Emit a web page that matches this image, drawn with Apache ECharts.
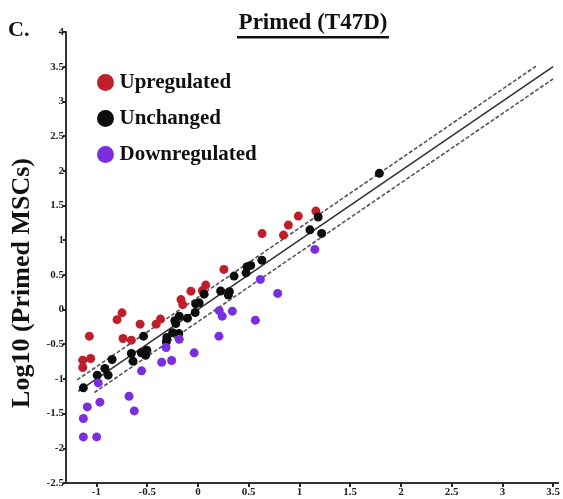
<!DOCTYPE html>
<html><head><meta charset="utf-8">
<script src="https://cdn.jsdelivr.net/npm/echarts@6/dist/echarts.min.js"></script>
<style>html,body{margin:0;padding:0;background:#fff}#c{width:563px;height:499px}</style>
</head><body><div id="c"></div>
<script>
// ---- data ----
const seriesNames = ['Upregulated', 'Unchanged', 'Downregulated'];
const upX = [1.162, 0.989, 0.891, 0.843, 0.632, 0.256, 0.077, 0.044, -0.069, -0.167, -0.150, -0.369, -0.412, -0.570, -0.748, -0.797, -0.738, -0.656, -1.070, -1.057, -1.135, -1.135];
const upY = [1.419, 1.347, 1.217, 1.073, 1.095, 0.578, 0.352, 0.273, 0.265, 0.143, 0.071, -0.138, -0.211, -0.211, -0.048, -0.146, -0.417, -0.441, -0.384, -0.705, -0.730, -0.835];
const unchX = [1.788, 1.185, 1.104, 1.219, 0.630, 0.520, 0.484, 0.474, 0.356, 0.224, 0.310, 0.300, 0.061, 0.012, -0.022, -0.027, -0.103, -0.184, -0.228, -0.218, -0.249, -0.306, -0.189, -0.311, -0.536, -0.503, -0.558, -0.516, -0.656, -0.640, -0.846, -0.917, -0.885, -0.992, -1.129];
const unchY = [1.963, 1.333, 1.149, 1.097, 0.712, 0.636, 0.616, 0.529, 0.482, 0.268, 0.258, 0.208, 0.222, 0.097, 0.082, -0.042, -0.124, -0.095, -0.160, -0.203, -0.333, -0.402, -0.345, -0.463, -0.384, -0.586, -0.624, -0.658, -0.633, -0.744, -0.720, -0.849, -0.946, -0.946, -1.129];
const downX = [1.152, 0.615, 0.786, 0.210, 0.239, 0.339, 0.566, 0.207, -0.184, -0.314, -0.037, -0.357, -0.259, -0.555, -0.982, -0.966, -1.090, -0.679, -0.627, -1.129, -1.129, -0.998];
const downY = [0.867, 0.434, 0.232, -0.016, -0.095, -0.023, -0.153, -0.384, -0.430, -0.547, -0.624, -0.759, -0.734, -0.884, -1.057, -1.335, -1.403, -1.249, -1.461, -1.571, -1.836, -1.836];
// reference lines (identity and +/- log10(1.5))
const solidLineX = [-1.18, 3.5];
const solidLineY = [-1.18, 3.5];
const upperLineX = [-1.19, 3.33];
const upperLineY = [-1.014, 3.506];
const lowerLineX = [-1.02, 3.5];
const lowerLineY = [-1.196, 3.324];
const xTicks = [-1, -0.5, 0, 0.5, 1, 1.5, 2, 2.5, 3, 3.5];
const yMin = -2.5, yMax = 4, yStep = 0.5;
const xMin = -1.3, xMax = 3.55;
const titleText = 'Primed (T47D)';
const yAxisTitle = 'Log10 (Primed MSCs)';
const panelLabel = 'C.';

// ---- chart ----
const zip = (a, b) => a.map((v, i) => [v, b[i]]);
const serif = 'Liberation Serif, Times New Roman, serif';
const colors = ['#bf1f2b', '#0d0d0d', '#7a2ee0'];
const chart = echarts.init(document.getElementById('c'), null, {renderer: 'canvas'});
const lineStyleBase = {color: '#333', width: 1.6};
chart.setOption({
  animation: false,
  backgroundColor: '#fff',
  grid: {left: 66, right: 0, top: 32, bottom: 16},
  legend: {
    data: seriesNames.map(n => ({name: n, icon: 'circle'})),
    orient: 'vertical', left: 92, top: 67, itemGap: 15,
    itemWidth: 18, itemHeight: 17,
    textStyle: {fontFamily: serif, fontWeight: 'bold', fontSize: 21, color: '#111'}
  },
  xAxis: {
    type: 'value', min: xMin, max: xMax,
    axisLine: {show: true, onZero: false, lineStyle: {color: '#333', width: 2}},
    axisTick: {show: true, customValues: xTicks, length: 4, lineStyle: {color: '#222', width: 2}},
    axisLabel: {customValues: xTicks, margin: 4, fontFamily: serif, fontWeight: 'bold', fontSize: 11, color: '#222'},
    splitLine: {show: false}
  },
  yAxis: {
    type: 'value', min: yMin, max: yMax, interval: yStep,
    axisLine: {show: true, onZero: false, lineStyle: {color: '#333', width: 2}},
    axisTick: {show: true, length: 3, lineStyle: {color: '#222', width: 2}},
    axisLabel: {margin: 2, fontFamily: serif, fontWeight: 'bold', fontSize: 11, color: '#222'},
    splitLine: {show: false}
  },
  graphic: [
    {type: 'text', left: 8, top: 19, style: {text: panelLabel, font: 'bold 22px ' + serif, fill: '#111'}},
    {type: 'text', x: 313, y: 23, style: {text: titleText, font: 'bold 23px ' + serif, fill: '#111', align: 'center', verticalAlign: 'middle'}},
    {type: 'rect', shape: {x: 237, y: 36, width: 152, height: 2.5}, style: {fill: '#111'}},
    {type: 'text', x: 22, y: 283, rotation: Math.PI / 2, style: {text: yAxisTitle, font: 'bold 26px ' + serif, fill: '#111', align: 'center', verticalAlign: 'middle'}}
  ],
  series: [
    {type: 'line', data: zip(solidLineX, solidLineY), symbol: 'none', lineStyle: lineStyleBase, silent: true, z: 1},
    {type: 'line', data: zip(upperLineX, upperLineY), symbol: 'none', lineStyle: Object.assign({}, lineStyleBase, {type: [4, 2], color: '#555'}), silent: true, z: 1},
    {type: 'line', data: zip(lowerLineX, lowerLineY), symbol: 'none', lineStyle: Object.assign({}, lineStyleBase, {type: [4, 2], color: '#555'}), silent: true, z: 1},
    {name: seriesNames[0], type: 'scatter', data: zip(upX, upY), symbolSize: 9, itemStyle: {color: colors[0], opacity: 1}, z: 3},
    {name: seriesNames[1], type: 'scatter', data: zip(unchX, unchY), symbolSize: 9, itemStyle: {color: colors[1], opacity: 1}, z: 3},
    {name: seriesNames[2], type: 'scatter', data: zip(downX, downY), symbolSize: 9, itemStyle: {color: colors[2], opacity: 1}, z: 3}
  ]
});
</script>
</body></html>
